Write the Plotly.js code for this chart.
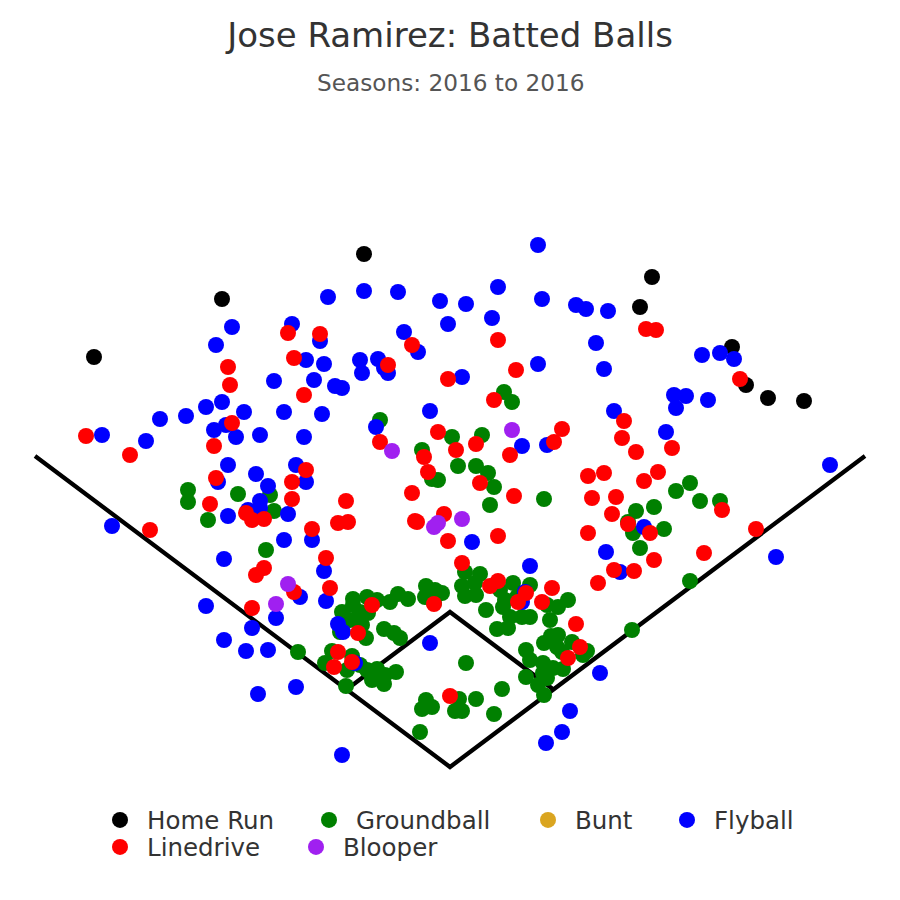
<!DOCTYPE html>
<html><head><meta charset="utf-8">
<script src="https://cdn.plot.ly/plotly-3.0.1.min.js"></script>
<style>html,body{margin:0;padding:0;background:#fff}#chart{width:900px;height:900px}</style>
</head><body><div id="chart"></div>
<script>
const fieldX=[35,450,865,null,346.6,450,553.4];
const fieldY=[456,767,456,null,689.5,612,689.5];
const homeRunX=[94,222,364,652,640,732,746,768,804];
const homeRunY=[357,299,254,277,307,347,385,398,401];
const groundX=[188,188,208,238,270,274,266,380,422,452,482,458,476,488,494,490,438,432,544,504,512,690,676,700,720,654,636,628,633,664,640,690,632,
426,435,442,425,434,398,408,390,353,367,377,342,353,360,368,350,360,362,340,366,384,394,400,332,325,352,347,360,367,377,372,384,396,385,346,375,298,
466,426,422,432,420,459,455,462,476,494,502,
465,480,462,475,465,476,486,513,530,500,505,517,503,510,522,530,497,508,568,558,547,550,551,558,544,557,572,562,587,583,563,553,543,526,530,543,526,538,544,547];
const groundY=[490,502,520,494,495,511,550,420,450,437,435,466,466,473,487,505,480,479,499,392,402,483,491,501,501,507,511,522,533,529,548,581,630,
586,590,593,597,603,594,599,602,599,597,600,612,605,612,613,620,620,625,632,638,629,633,638,651,663,656,670,665,670,669,680,684,672,675,686,677,652,
663,700,709,707,732,699,711,711,699,714,689,
572,574,586,583,596,595,610,583,585,590,600,597,607,617,617,617,629,628,600,607,605,620,636,635,643,647,642,652,651,655,669,668,663,650,660,673,677,685,695,678];
const buntX=[null];
const buntY=[null];
const flyX=[102,146,160,186,206,222,244,214,226,236,260,274,284,304,322,314,306,324,335,342,328,232,216,292,320,360,362,
364,398,440,466,498,538,542,576,586,608,492,448,404,418,378,384,388,462,538,596,604,430,376,522,547,
702,720,734,674,686,676,708,614,666,830,
228,256,268,218,260,248,260,228,288,296,306,284,312,224,324,206,252,276,300,326,224,112,246,268,258,296,
338,343,355,430,342,600,570,562,546,530,525,522,644,606,620,776,472];
const flyY=[435,441,419,416,407,402,412,430,425,437,435,381,412,437,414,380,360,364,386,388,297,327,345,324,341,360,373,
291,292,301,304,287,245,299,305,309,311,318,324,332,352,359,368,373,377,364,343,369,411,427,446,445,
355,353,359,395,396,408,400,411,432,465,
465,474,486,482,501,510,508,516,514,465,482,540,540,559,571,606,628,618,597,601,640,526,651,650,694,687,
624,632,663,643,755,673,711,732,743,566,592,602,527,552,572,557,542];
const lineX=[86,130,214,232,304,294,230,228,288,320,412,388,448,498,516,494,380,438,476,456,424,510,554,562,624,622,636,
646,656,740,672,588,604,644,658,428,412,480,514,444,415,417,448,498,462,
216,210,246,252,264,292,306,292,346,338,348,312,326,264,256,330,294,252,150,
592,616,612,628,650,588,722,756,704,654,614,634,598,
372,434,490,498,526,518,542,552,576,358,338,352,334,580,568,450];
const lineY=[436,455,446,423,395,358,385,367,333,334,345,365,379,340,370,400,442,432,444,450,457,455,442,429,421,438,452,
329,330,379,448,476,473,481,472,472,493,483,496,514,521,522,541,536,563,
478,504,513,520,519,482,470,499,501,523,522,529,558,568,575,588,592,608,530,
498,497,514,524,533,533,510,529,553,560,570,571,583,
605,604,586,581,593,602,602,588,624,633,652,662,667,647,658,696];
const blooperX=[392,512,438,434,462,288,276];
const blooperY=[451,430,523,527,519,584,604];

const font='"DejaVu Sans", sans-serif';
const markerSize=16;
const legendSlots=[[120,820],[329,820],[548,820],[687,820],[120,847],[316,847]];
let slot=0;
const legendLayout={};
function pts(name,x,y,color){
  const id=slot===0?'legend':'legend'+(slot+1);
  const s=legendSlots[slot];
  legendLayout[id]={x:(s[0]-27)/900,xanchor:'left',y:1-s[1]/900,yanchor:'middle',itemwidth:44,
    font:{family:font,size:24.5,color:'#333'},bgcolor:'rgba(0,0,0,0)',borderwidth:0,itemclick:false,itemdoubleclick:false};
  slot++;
  return {type:'scatter',mode:'markers',name:name,x:x,y:y,legend:id,showlegend:true,cliponaxis:false,
    marker:{color:color,size:markerSize,line:{width:0}},hoverinfo:'x+y'};
}
const traces=[
 {type:'scatter',mode:'lines',x:fieldX,y:fieldY,showlegend:false,line:{color:'#000',width:4.3},hoverinfo:'skip'},
 pts('Home Run',homeRunX,homeRunY,'#000000'),
 pts('Groundball',groundX,groundY,'#008000'),
 pts('Bunt',buntX,buntY,'#DAA520'),
 pts('Flyball',flyX,flyY,'#0000FF'),
 pts('Linedrive',lineX,lineY,'#FF0000'),
 pts('Blooper',blooperX,blooperY,'#A020F0')
];
const layout=Object.assign({
 width:900,height:900,margin:{l:0,r:0,t:0,b:0},paper_bgcolor:'#fff',plot_bgcolor:'#fff',
 showlegend:true,
 xaxis:{range:[0,900],visible:false,fixedrange:true},
 yaxis:{range:[900,0],visible:false,fixedrange:true},
 title:{text:'Jose Ramirez: Batted Balls',font:{family:font,size:34,color:'#333'},x:0.5,xanchor:'center',y:0.9483,yanchor:'bottom'},
 annotations:[{text:'Seasons: 2016 to 2016',xref:'paper',yref:'paper',x:0.5,y:1-98/900,xanchor:'center',yanchor:'bottom',showarrow:false,font:{family:font,size:23.2,color:'#555'}}]
},legendLayout);
Plotly.newPlot('chart',traces,layout,{displayModeBar:false});
</script></body></html>
